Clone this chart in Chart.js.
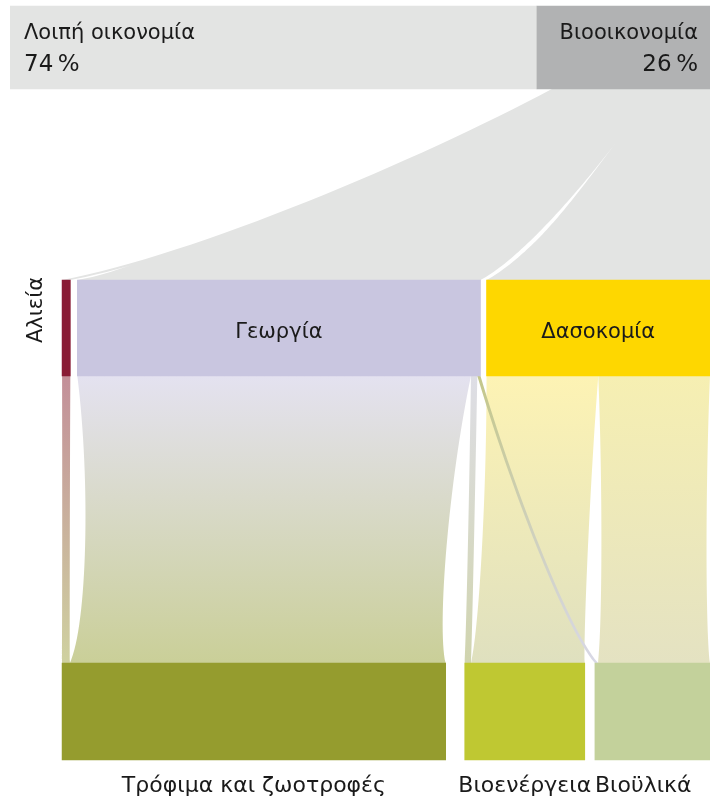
<!DOCTYPE html>
<html lang="el">
<head>
<meta charset="utf-8">
<title>Βιοοικονομία</title>
<script src="https://cdn.jsdelivr.net/npm/chart.js@4.4.1/dist/chart.umd.min.js"></script>
<style>
  html, body { margin: 0; padding: 0; background: #fff; }
  #wrap { width: 710px; height: 798px; }
</style>
</head>
<body>
<div id="wrap"><canvas id="chart" width="710" height="798"></canvas></div>
<script>
// whole economy (top bar), %
const economyLabels = ['Λοιπή οικονομία', 'Βιοοικονομία'];
const economyShares = [74, 26];

// bioeconomy by sector, % of bioeconomy
const sectorLabels = ['Αλιεία', 'Γεωργία', 'Δασοκομία'];
const sectorShares = [1.3, 63.5, 35.2];

// bioeconomy by use, %
const useLabels = ['Τρόφιμα και ζωοτροφές', 'Βιοενέργεια', 'Βιοϋλικά'];
const useShares = [62.0, 19.4, 18.6];

// sector -> use flows
const flowFrom = ['Αλιεία', 'Γεωργία', 'Γεωργία', 'Γεωργία', 'Δασοκομία', 'Δασοκομία'];
const flowTo = ['Τρόφιμα και ζωοτροφές', 'Τρόφιμα και ζωοτροφές', 'Βιοενέργεια', 'Βιοϋλικά', 'Βιοενέργεια', 'Βιοϋλικά'];
const flowValues = [1.3, 61.9, 1.0, 0.5, 17.6, 17.6];

// colours
const economyColors = ['#e3e4e3', '#b1b2b3'];
const sectorColors = ['#891b35', '#c9c6e0', '#fed700'];
const useColors = ['#959c2e', '#bfc832', '#c3d19b'];
const fanColor = '#e3e4e3';
const flowColors = [
  ['#c38f99', '#cfd1a0'],
  ['#e4e2f0', '#cacf98'],
  ['#dedee6', '#d0d4ae'],
  ['#c4c78a', '#d8d8e6'],
  ['#fdf3b4', '#dfe0bf'],
  ['#f6efb2', '#e4e2c2']
];

// layout (pixels on the y axis, units on the x axes)
const ROWS = {
  economy: { top: 6, height: 83 },
  sector: { top: 280, height: 96 },
  use: { top: 663, height: 97 }
};
const TOP_MAX = 98.3;      // top bar runs a bit past the right edge
const ROW_SPAN = 102;
const BIO_MIN = -8.2;
const SECTOR_GAPS = [1.1, 0.95];
const USE_GAPS = [3, 1.6];
const FAN_TOP_SCALE = 0.249;
const FAN_GAP_START = [[0.85, 0.97], [0.22, 0.75]];  // where the white gaps open up in the fan
const PINCH = 0.04;
const FONT = '"DejaVu Sans", "Noto Sans", sans-serif';

const sum = arr => arr.reduce((a, b) => a + b, 0);

function layoutRow(shares, gaps) {
  const total = sum(shares);
  const avail = ROW_SPAN - sum(gaps);
  let pos = 0;
  return shares.map((s, i) => {
    const start = pos;
    const end = start + s / total * avail;
    pos = end + (gaps[i] || 0);
    return [start, end];
  });
}

const economySpans = [];
economyShares.reduce((acc, s) => { economySpans.push([acc, acc + s]); return acc + s; }, 0);
const sectorSpans = layoutRow(sectorShares, SECTOR_GAPS);
const useSpans = layoutRow(useShares, USE_GAPS);

const rowCenter = key => ROWS[key].top + ROWS[key].height / 2;

// control points of a ribbon edge, top point to bottom point
function controls(xt, yt, xb, yb, bend) {
  const dx = xb - xt, dy = yb - yt;
  return [xt + 0.27 * dx + bend, yt + 0.37 * dy, xb - 0.27 * dx + bend, yb - 0.13 * dy];
}

function edge(ctx, xt, yt, xb, yb, upward, bend = 0) {
  const [c1x, c1y, c2x, c2y] = controls(xt, yt, xb, yb, bend);
  if (upward) ctx.bezierCurveTo(c2x, c2y, c1x, c1y, xt, yt);
  else ctx.bezierCurveTo(c1x, c1y, c2x, c2y, xb, yb);
}

function pointAt(xt, yt, xb, yb, t) {
  const [c1x, c1y, c2x, c2y] = controls(xt, yt, xb, yb, 0);
  const u = 1 - t;
  return [
    u * u * u * xt + 3 * u * u * t * c1x + 3 * u * t * t * c2x + t * t * t * xb,
    u * u * u * yt + 3 * u * u * t * c1y + 3 * u * t * t * c2y + t * t * t * yb
  ];
}

function ribbon(ctx, tl, tr, yt, bl, br, yb, pinch = 0) {
  ctx.beginPath();
  ctx.moveTo(tl, yt);
  edge(ctx, tl, yt, bl, yb, false, pinch);
  ctx.lineTo(br, yb);
  edge(ctx, tr, yt, br, yb, true, -pinch);
  ctx.closePath();
}

const smooth = (a, b, t) => {
  const u = Math.min(1, Math.max(0, (t - a) / (b - a)));
  return u * u * (3 - 2 * u);
};

const flowPlugin = {
  id: 'flows',
  beforeDatasetsDraw(chart) {
    const ctx = chart.ctx;
    const x = chart.scales.x, y = chart.scales.y;
    ctx.save();

    // fan: bioeconomy -> sectors
    const fanTop = y.getPixelForValue(ROWS.economy.top + ROWS.economy.height);
    const fanBottom = y.getPixelForValue(ROWS.sector.top);
    let t0 = ROW_SPAN - sum(sectorShares) * FAN_TOP_SCALE;
    const fan = sectorSpans.map((span, i) => {
      const w = sectorShares[i] * FAN_TOP_SCALE;
      const r = {
        tl: x.getPixelForValue(t0), tr: x.getPixelForValue(t0 + w),
        bl: x.getPixelForValue(span[0]), br: x.getPixelForValue(span[1])
      };
      t0 += w;
      return r;
    });
    const first = fan[0], last = fan[fan.length - 1];
    ribbon(ctx, first.tl, last.tr, fanTop, first.bl, last.br, fanBottom);
    ctx.fillStyle = fanColor;
    ctx.fill();
    ctx.fillStyle = '#fff';
    for (let i = 0; i < fan.length - 1; i++) {
      const a = fan[i], b = fan[i + 1];
      const gap = b.bl - a.br;
      const [s0, s1] = FAN_GAP_START[i];
      const pts = [];
      for (let k = 0; k <= 80; k++) pts.push(pointAt(a.tr, fanTop, a.br, fanBottom, k / 80));
      ctx.beginPath();
      pts.forEach(([px, py], k) => k ? ctx.lineTo(px, py) : ctx.moveTo(px, py));
      for (let k = 80; k >= 0; k--) {
        const [px, py] = pts[k];
        ctx.lineTo(px + gap * smooth(s0, s1, k / 80), py);
      }
      ctx.closePath();
      ctx.fill();
    }

    // sector -> use flows
    const yt = y.getPixelForValue(ROWS.sector.top + ROWS.sector.height);
    const yb = y.getPixelForValue(ROWS.use.top);
    const outPos = sectorSpans.map(s => s[0]);
    const inPos = useSpans.map(s => s[0]);
    const outTotal = sectorLabels.map(n => sum(flowValues.filter((v, i) => flowFrom[i] === n)));
    const inTotal = useLabels.map(n => sum(flowValues.filter((v, i) => flowTo[i] === n)));
    const flows = flowValues.map((v, i) => {
      const s = sectorLabels.indexOf(flowFrom[i]);
      const t = useLabels.indexOf(flowTo[i]);
      const ws = v / outTotal[s] * (sectorSpans[s][1] - sectorSpans[s][0]);
      const wt = v / inTotal[t] * (useSpans[t][1] - useSpans[t][0]);
      const f = { i, v, a0: outPos[s], a1: outPos[s] + ws, b0: inPos[t], b1: inPos[t] + wt };
      outPos[s] += ws;
      inPos[t] += wt;
      return f;
    });
    // smaller flows on top
    flows.slice().sort((a, b) => b.v - a.v).forEach(f => {
      const g = ctx.createLinearGradient(0, yt, 0, yb);
      g.addColorStop(0, flowColors[f.i][0]);
      g.addColorStop(1, flowColors[f.i][1]);
      ctx.fillStyle = g;
      const a0 = x.getPixelForValue(f.a0), a1 = x.getPixelForValue(f.a1);
      const b0 = x.getPixelForValue(f.b0), b1 = x.getPixelForValue(f.b1);
      const pinch = PINCH * ((a1 - a0) + (b1 - b0)) / 2;
      ribbon(ctx, a0, a1, yt, b0, b1, yb, pinch);
      ctx.fill();
    });
    ctx.restore();
  },
  afterDatasetsDraw(chart) {
    const ctx = chart.ctx;
    const x = chart.scales.x, xTop = chart.scales.xTop, y = chart.scales.y;
    const area = chart.chartArea;
    ctx.save();
    ctx.fillStyle = '#1a1a1a';
    ctx.textBaseline = 'middle';

    // top bar
    const leftX = xTop.getPixelForValue(economySpans[0][0]) + 14;
    const rightX = Math.min(xTop.getPixelForValue(economySpans[1][1]), area.right) - 12;
    const line1 = y.getPixelForValue(ROWS.economy.top + 28);
    const line2 = y.getPixelForValue(ROWS.economy.top + 59);
    ctx.font = '21px ' + FONT;
    ctx.textAlign = 'left';
    ctx.fillText(economyLabels[0], leftX, line1);
    ctx.textAlign = 'right';
    ctx.fillText(economyLabels[1], rightX, line1);
    ctx.font = '23px ' + FONT;
    ctx.textAlign = 'left';
    ctx.fillText(economyShares[0] + '\u202F%', leftX, line2);
    ctx.textAlign = 'right';
    ctx.fillText(economyShares[1] + '\u202F%', rightX, line2);

    // sectors
    ctx.font = '21px ' + FONT;
    ctx.textAlign = 'center';
    const midY = y.getPixelForValue(rowCenter('sector')) + 5;
    sectorLabels.forEach((name, i) => {
      const x0 = x.getPixelForValue(sectorSpans[i][0]);
      const x1 = x.getPixelForValue(sectorSpans[i][1]);
      if (x1 - x0 > 60) {
        ctx.fillText(name, (x0 + x1) / 2, midY);
      } else {
        ctx.save();
        ctx.translate(x0 - 26, y.getPixelForValue(ROWS.sector.top + 30));
        ctx.rotate(-Math.PI / 2);
        ctx.fillText(name, 0, 0);
        ctx.restore();
      }
    });

    // uses
    ctx.font = '22px ' + FONT;
    const botY = y.getPixelForValue(ROWS.use.top + ROWS.use.height + 26);
    useLabels.forEach((name, i) => {
      const x0 = x.getPixelForValue(useSpans[i][0]);
      const x1 = x.getPixelForValue(useSpans[i][1]);
      const w = ctx.measureText(name).width;
      if ((x0 + x1) / 2 + w / 2 > area.right - 16) {
        ctx.textAlign = 'left';
        ctx.fillText(name, x0, botY);
      } else {
        ctx.textAlign = 'center';
        ctx.fillText(name, (x0 + x1) / 2, botY);
      }
    });
    ctx.restore();
  }
};

const ctx = document.getElementById('chart').getContext('2d');
new Chart(ctx, {
  type: 'bar',
  data: {
    datasets: [
      {
        label: 'economy',
        xAxisID: 'xTop',
        data: economySpans.map(s => ({ x: s, y: rowCenter('economy') })),
        backgroundColor: economyColors,
        barThickness: ROWS.economy.height
      },
      {
        label: 'sectors',
        xAxisID: 'x',
        data: sectorSpans.map(s => ({ x: s, y: rowCenter('sector') })),
        backgroundColor: sectorColors,
        barThickness: ROWS.sector.height
      },
      {
        label: 'uses',
        xAxisID: 'x',
        data: useSpans.map(s => ({ x: s, y: rowCenter('use') })),
        backgroundColor: useColors,
        barThickness: ROWS.use.height
      }
    ]
  },
  options: {
    indexAxis: 'y',
    responsive: false,
    animation: false,
    events: [],
    layout: { padding: { left: 10, right: 0, top: 0, bottom: 0 } },
    datasets: { bar: { grouped: false, borderWidth: 0 } },
    plugins: {
      legend: { display: false },
      tooltip: { enabled: false }
    },
    scales: {
      xTop: { type: 'linear', position: 'top', min: 0, max: TOP_MAX, offset: false, display: false },
      x: { type: 'linear', position: 'bottom', min: BIO_MIN, max: ROW_SPAN, offset: false, display: false },
      y: { type: 'linear', min: 0, max: 798, reverse: true, offset: false, display: false }
    }
  },
  plugins: [flowPlugin]
});
</script>
</body>
</html>
